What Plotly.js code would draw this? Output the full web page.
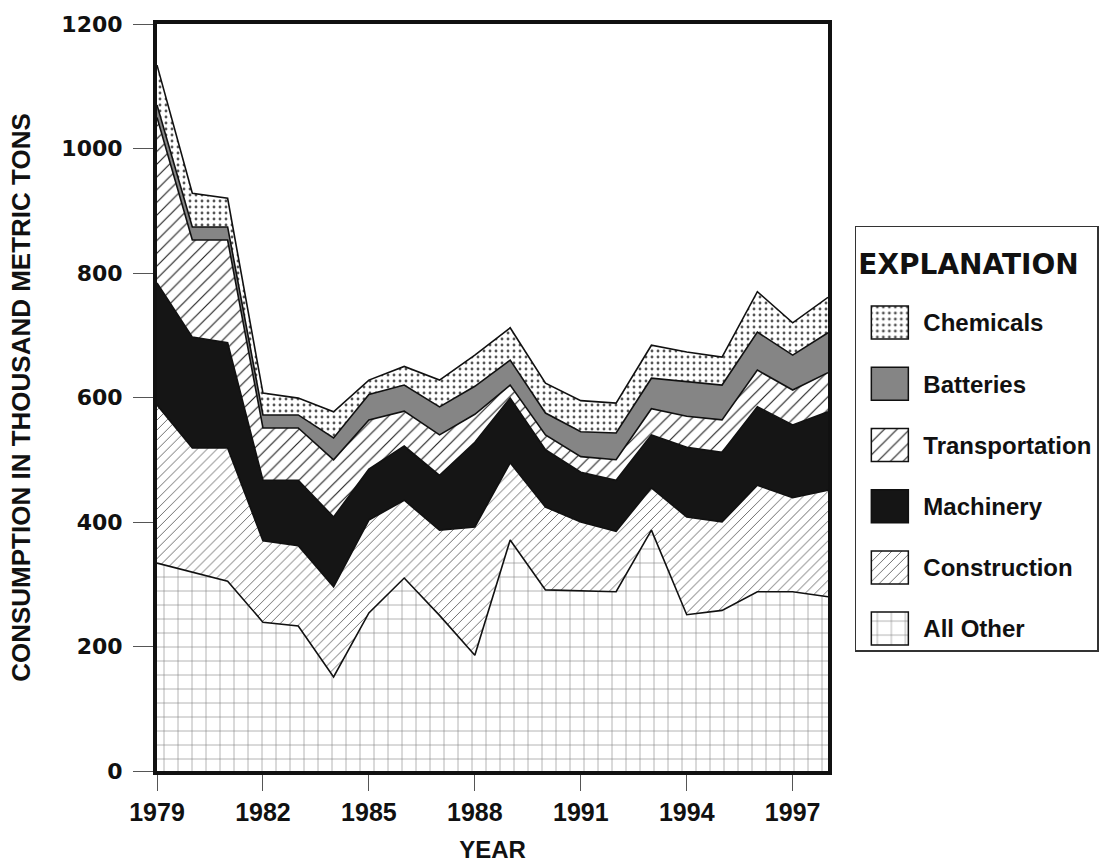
<!DOCTYPE html>
<html>
<head>
<meta charset="utf-8">
<script src="https://cdn.plot.ly/plotly-3.0.1.min.js"></script>
<style>html,body{margin:0;padding:0;background:#fff;}#chart{width:1112px;height:863px;}</style>
</head>
<body>
<div id="chart"></div>
<script>
// Years
const years = [1979,1980,1981,1982,1983,1984,1985,1986,1987,1988,1989,1990,1991,1992,1993,1994,1995,1996,1997,1998];
// Consumption by end use, thousand metric tons
const allOther       = [334,320,305,239,233,151,254,310,250,186,371,291,290,288,387,251,258,288,288,280];
const construction   = [254,199,214,131,129,145,149,125,137,206,124,133,110, 97, 68,157,142,171,151,171];
const machinery      = [196,178,169, 97,105,112, 82, 87, 88,136,104, 92, 80, 82, 85,112,112,126,117,126];
const transportation = [266,156,165, 84, 84, 92, 79, 56, 65, 45, 21, 24, 25, 33, 42, 50, 52, 59, 56, 63];
const batteries      = [ 20, 21, 21, 21, 21, 35, 41, 42, 45, 45, 40, 35, 40, 43, 49, 55, 56, 61, 56, 64];
const chemicals      = [ 64, 54, 46, 35, 27, 42, 23, 30, 43, 50, 52, 48, 50, 48, 53, 48, 45, 65, 52, 57];

const xTicks = [1979,1982,1985,1988,1991,1994,1997];
const yTicks = [0,200,400,600,800,1000,1200];

const FONT = 'Liberation Sans, Arial, sans-serif';
const WIDE = 'DejaVu Sans, Verdana, sans-serif';

function layer(name, vals, rank, fillcolor, pattern) {
  const t = {
    type: 'scatter', mode: 'lines', name: name, x: years, y: vals,
    stackgroup: 'one', legendgroup: name, legendrank: rank,
    line: {color: '#111', width: 1.6, shape: 'linear'},
    fillcolor: fillcolor,
    hoverinfo: 'x+y+name'
  };
  if (pattern) t.fillpattern = pattern;
  return t;
}

const data = [
  layer('All Other', allOther, 6, '#ffffff', {shape: '+', fgcolor: '#7a7a7a', bgcolor: '#ffffff', size: 14, solidity: 0.08}),
  layer('Construction', construction, 5, '#ffffff', {shape: '/', fgcolor: '#555555', bgcolor: '#ffffff', size: 7, solidity: 0.12}),
  layer('Machinery', machinery, 4, '#151515', null),
  layer('Transportation', transportation, 3, '#ffffff', {shape: '/', fgcolor: '#222222', bgcolor: '#ffffff', size: 9, solidity: 0.13}),
  layer('Batteries', batteries, 2, '#858585', null),
  layer('Chemicals', chemicals, 1, '#ffffff', {shape: '.', fgcolor: '#555555', bgcolor: '#ffffff', size: 6, solidity: 0.18})
];

const layout = {
  width: 1112, height: 863,
  paper_bgcolor: '#ffffff', plot_bgcolor: '#ffffff',
  margin: {l: 157, r: 284, t: 24, b: 92, autoexpand: false},
  font: {family: FONT, color: '#111'},
  showlegend: true,
  xaxis: {
    range: [1979, 1998], tickvals: xTicks, ticktext: xTicks.map(String),
    showgrid: false, zeroline: false,
    showline: true, linecolor: '#111', linewidth: 4, mirror: true,
    ticks: 'outside', ticklen: 16, tickwidth: 1, tickcolor: '#555',
    tickfont: {family: FONT, size: 25, color: '#111', weight: 'bold'},
    title: {text: '<b>YEAR</b>', font: {family: FONT, size: 24, color: '#111'}, standoff: 22}
  },
  yaxis: {
    range: [0, 1200], tickvals: yTicks,
    showgrid: false, zeroline: false,
    showline: true, linecolor: '#111', linewidth: 4, mirror: true,
    ticks: 'outside', ticklen: 20, tickwidth: 1, tickcolor: '#555',
    ticklabelstandoff: 6,
    tickfont: {family: WIDE, size: 22, color: '#111', weight: 'bold'},
    title: {text: '<b>CONSUMPTION IN THOUSAND METRIC TONS</b>', font: {family: FONT, size: 26, color: '#111'}, standoff: 24}
  },
  legend: {
    x: 1.04, xanchor: 'left', y: 0.73, yanchor: 'top',
    traceorder: 'grouped',
    bgcolor: '#ffffff', bordercolor: '#333', borderwidth: 1.5,
    font: {family: FONT, size: 24, color: '#111', weight: 'bold'},
    title: {text: '<b>EXPLANATION</b><br><span style="font-size:10px"> </span>', font: {family: WIDE, size: 28, color: '#111'}, side: 'top'},
    tracegroupgap: 27, itemwidth: 57
  }
};

Plotly.newPlot('chart', data, layout, {displayModeBar: false, staticPlot: true}).then(function(gd) {
  gd.querySelectorAll('.legend .traces').forEach(function(tr) {
    const f = tr.querySelector('.legendfill path');
    if (f) {
      f.setAttribute('d', 'M15,-16h37v33h-37z');
      f.style.stroke = '#111';
      f.style.strokeWidth = '1.5px';
    }
    tr.querySelectorAll('.legendlines path').forEach(function(p) { p.style.display = 'none'; });
  });
  const tt = gd.querySelector('.legend .legendtitletext');
  if (tt) tt.setAttribute('transform', 'translate(0,10)');
});
</script>
</body>
</html>
